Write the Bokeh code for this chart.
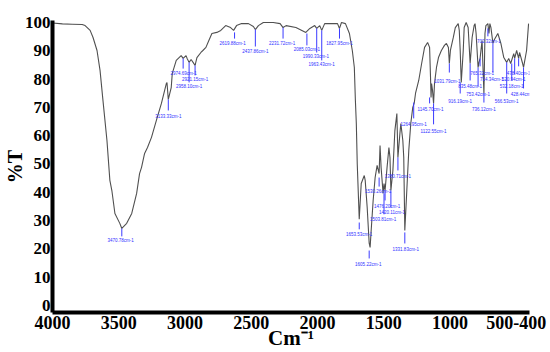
from bokeh.plotting import figure
from bokeh.models import Range1d, FixedTicker
from bokeh.embed import file_html
from bokeh.resources import INLINE
from bokeh.core.properties import value

# ---- spectrum (wavenumber cm-1, %T) ----
wavenumber = [4000, 3925, 3851, 3776, 3754, 3716, 3694, 3664, 3641, 3619,
              3589, 3567, 3552, 3529, 3492, 3477, 3440, 3402, 3365, 3343,
              3328, 3305, 3283, 3253, 3216, 3178, 3141, 3136, 3126, 3104,
              3096, 3066, 3029, 3014, 2992, 2984, 2969, 2954, 2939, 2924,
              2910, 2880, 2865, 2842, 2820, 2797, 2760, 2730, 2693, 2656,
              2633, 2611, 2573, 2521, 2484, 2469, 2446, 2409, 2334, 2282,
              2260, 2237, 2163, 2088, 2058, 2021, 2006, 1983, 1968, 1946,
              1886, 1849, 1834, 1819, 1789, 1759, 1737, 1722, 1714, 1707,
              1700, 1685, 1670, 1647, 1640, 1625, 1610, 1603, 1595, 1580,
              1565, 1550, 1535, 1528, 1520, 1505, 1498, 1490, 1475, 1461,
              1453, 1446, 1431, 1416, 1401, 1393, 1378, 1371, 1356, 1349,
              1341, 1326, 1311, 1296, 1281, 1270, 1260, 1236, 1214, 1192,
              1169, 1154, 1147, 1143, 1139, 1132, 1124, 1117, 1102, 1087,
              1065, 1042, 1027, 1012, 1005, 997, 975, 960, 938, 930,
              923, 915, 900, 893, 878, 863, 848, 833, 818, 811,
              803, 788, 781, 773, 758, 751, 744, 736, 729, 714,
              706, 699, 691, 676, 669, 639, 616, 594, 572, 557,
              542, 519, 512, 497, 482, 475, 452, 445, 422, 407]
transmittance = [99.8, 99.5, 99.4, 99.3, 98.9, 97.2, 94.7, 90.1, 83.0, 72.4,
                 58.3, 44.2, 40.6, 32.5, 29.0, 27.2, 29.0, 32.5, 39.6, 46.6,
                 48.8, 53.7, 55.8, 59.4, 65.4, 71.4, 78.4, 78.8, 72.8, 77.0,
                 82.0, 86.6, 88.3, 87.3, 88.3, 87.3, 85.9, 86.9, 85.9, 84.8,
                 87.6, 89.4, 90.1, 91.2, 93.6, 96.1, 96.5, 97.2, 98.9, 98.2,
                 97.2, 98.9, 99.6, 99.6, 98.6, 97.5, 98.9, 100.0, 100.0, 99.6,
                 98.2, 98.9, 98.2, 96.5, 97.9, 98.9, 97.9, 98.9, 97.2, 99.6,
                 99.6, 99.6, 97.9, 100.0, 99.6, 96.1, 90.0, 84.1, 72.4, 64.3,
                 50.0, 30.5, 43.1, 45.9, 44.2, 34.6, 22.0, 20.5, 26.5, 37.1,
                 45.2, 49.5, 46.6, 56.5, 48.8, 39.6, 43.1, 40.6, 48.8, 55.8,
                 52.3, 40.6, 47.7, 61.8, 67.8, 52.3, 60.8, 64.3, 58.3, 52.3,
                 26.5, 40.6, 54.8, 64.3, 70.0, 71.5, 75.0, 79.5, 85.5, 91.2,
                 92.9, 91.2, 80.6, 73.5, 78.4, 76.0, 71.4, 78.4, 84.1, 87.6,
                 90.1, 91.9, 92.6, 91.2, 85.5, 90.1, 94.7, 98.2, 99.6, 97.2,
                 90.1, 78.8, 90.1, 98.2, 100.0, 98.2, 85.5, 94.7, 98.9, 99.6,
                 96.1, 84.1, 85.9, 87.3, 93.6, 84.1, 74.9, 96.1, 98.9, 99.6,
                 96.1, 99.6, 98.2, 92.6, 93.6, 96.1, 92.6, 87.6, 85.9, 87.3,
                 85.5, 89.0, 87.3, 90.1, 87.3, 89.4, 85.5, 84.1, 90.1, 99.6]

# ---- peak annotations ----
peak_wn = [3477, 3126, 3014, 2924, 2969, 2626, 2469, 2260, 2080, 2006,
           1968, 1834, 1685, 1610, 1535, 1498, 1490, 1446, 1393, 1341,
           1274, 1154, 1124, 1005, 923, 848, 773, 788, 676, 744,
           714, 572, 534, 512, 482, 445]
peak_top = [27.2, 72.8, 87.3, 84.8, 85.9, 96.5, 97.5, 98.2, 96.1, 97.9,
            97.2, 97.9, 29.3, 19.4, 45.2, 39.6, 40.6, 40.6, 52.3, 25.8,
            71.7, 73.5, 71.4, 85.5, 78.8, 85.5, 87.3, 84.1, 92.6, 74.9,
            97.9, 85.9, 85.5, 87.3, 87.3, 84.1]
peak_bottom = [24.4, 68.9, 83.7, 81.3, 78.8, 94.3, 91.5, 94.3, 91.9, 89.4,
               86.6, 94.3, 26.9, 16.6, 42.0, 32.2, 37.1, 34.6, 47.7, 21.9,
               66.1, 71.4, 64.0, 82.3, 74.9, 79.5, 84.5, 77.4, 82.3, 71.7,
               95.1, 74.9, 79.5, 81.6, 84.5, 76.7]
label_wn = [3485, 3126, 3010, 2924, 2969, 2641, 2469, 2267, 2080, 2013,
            1968, 1834, 1685, 1617, 1543, 1505, 1475, 1438, 1393, 1334,
            1274, 1147, 1124, 1020, 923, 848, 758, 788, 684, 744,
            706, 572, 534, 519, 482, 452]
label_t = [23.7, 67.5, 83.0, 80.6, 78.1, 93.6, 90.8, 93.6, 91.2, 89.0,
           85.9, 93.6, 25.8, 15.2, 41.0, 31.1, 36.0, 33.9, 46.6, 20.5,
           64.7, 70.0, 62.5, 80.2, 72.8, 78.1, 83.0, 75.6, 80.9, 70.0,
           94.0, 72.8, 78.1, 80.6, 83.0, 75.3]
peak_labels = ["3470.78cm-1", "3133.33cm-1", "2974.69cm-1", "2921.15cm-1", "2958.10cm-1",
               "2619.88cm-1", "2437.86cm-1", "2231.72cm-1", "2085.03cm-1", "1990.33cm-1",
               "1963.43cm-1", "1827.95cm-1", "1653.53cm-1", "1605.22cm-1", "1530.26cm-1",
               "1503.81cm-1", "1476.20cm-1", "1420.11cm-1", "1380.71cm-1", "1331.83cm-1",
               "1264.95cm-1", "1145.70cm-1", "1122.55cm-1", "1031.79cm-1", "916.19cm-1",
               "835.48cm-1", "765.32cm-1", "753.42cm-1", "714.34cm-1", "736.12cm-1",
               "702.32cm-1", "566.53cm-1", "532.18cm-1", "520.94cm-1", "478.40cm-1",
               "428.44cm-1"]

x_ticks = [4000, 3500, 3000, 2500, 2000, 1500, 1000, 500]
x_tick_labels = {500: "500-400"}
y_ticks = [0, 10, 20, 30, 40, 50, 60, 70, 80, 90, 100]
x_title = "Cm\u207b\u00b9"
y_title = "%T"

SERIF = "Liberation Serif"

p = figure(width=550, height=352, output_backend="svg", toolbar_location=None,
           x_range=Range1d(4000, 400), y_range=Range1d(-2.5, 100.7),
           min_border_left=47, min_border_right=21, min_border_top=20,
           min_border_bottom=40)
p.outline_line_color = None
p.grid.visible = False
p.background_fill_color = "white"
p.border_fill_color = "white"

p.line(wavenumber, transmittance, line_color="#505050", line_width=1.1)

p.segment(x0=peak_wn, y0=peak_top, x1=peak_wn, y1=peak_bottom,
          line_color="#3a3aff", line_width=1)
p.text(x=label_wn, y=label_t, text=peak_labels, text_align="center",
       text_baseline="top", text_font=value("Liberation Sans"),
       text_font_size="4.5px", text_color="#3030ff")

for ax in (p.xaxis[0], p.yaxis[0]):
    ax.axis_line_width = 4
    ax.axis_line_color = "black"
    ax.major_tick_line_color = None
    ax.minor_tick_line_color = None
    ax.major_tick_out = 0
    ax.major_tick_in = 0
    ax.major_label_text_font = SERIF
    ax.major_label_text_font_style = "bold"
    ax.major_label_text_color = "black"
    ax.axis_label_text_font = SERIF
    ax.axis_label_text_font_style = "bold"
    ax.axis_label_text_color = "black"

p.xaxis.ticker = FixedTicker(ticks=x_ticks)
p.xaxis.major_label_overrides = x_tick_labels
p.xaxis.major_label_text_font_size = "18px"
p.xaxis.major_label_standoff = 3
p.xaxis.axis_label = x_title
p.xaxis.axis_label_text_font_size = "21px"
p.xaxis.axis_label_standoff = -6

p.yaxis.ticker = FixedTicker(ticks=y_ticks)
p.yaxis.major_label_text_font_size = "17px"
p.yaxis.major_label_standoff = 2
p.yaxis.axis_label = y_title
p.yaxis.axis_label_text_font_size = "20px"
p.yaxis.axis_label_standoff = -4

open("out.html", "w").write(file_html(p, INLINE))
